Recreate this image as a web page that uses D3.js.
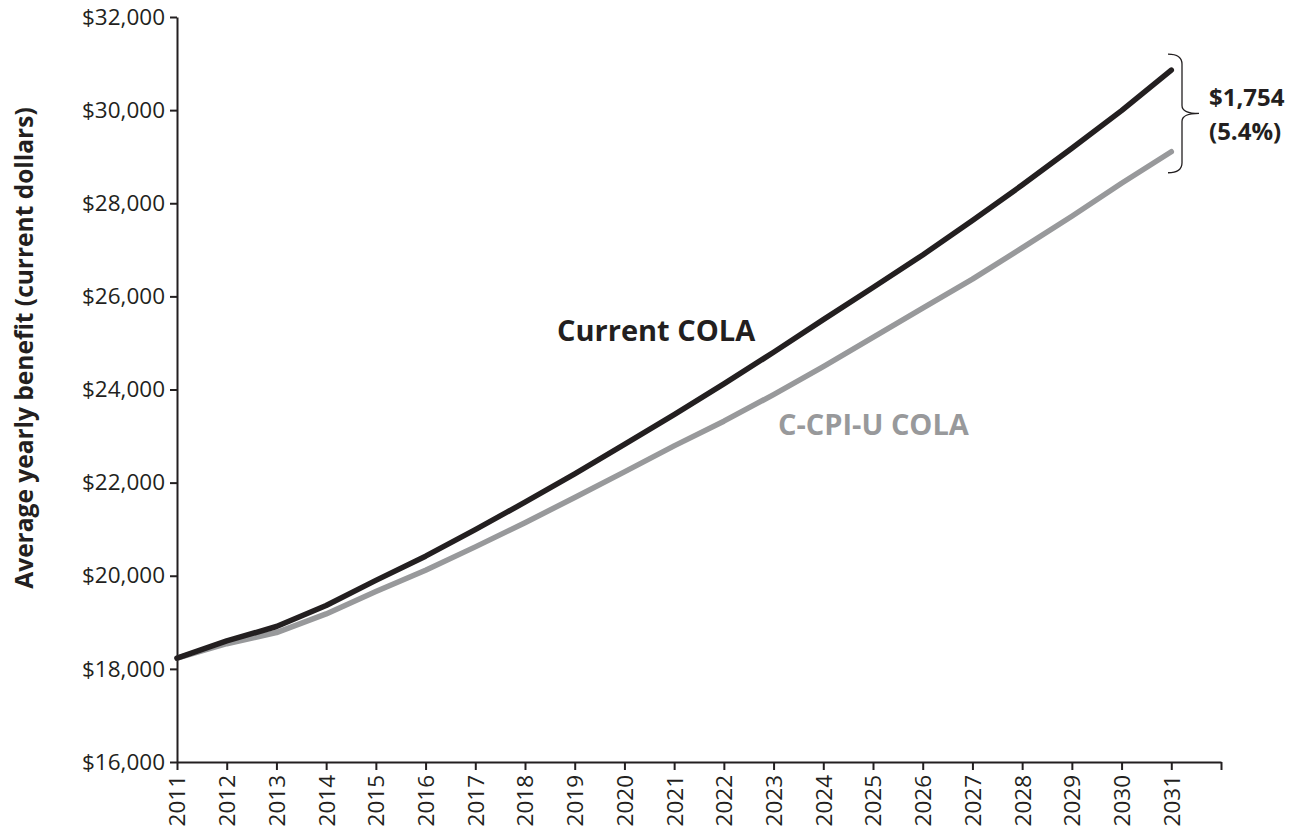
<!DOCTYPE html>
<html>
<head>
    <meta charset="utf-8">
    <title>Average yearly benefit</title>
    <script src="https://d3js.org/d3.v7.min.js"></script>
    <style>
        html, body {
            margin: 0px;
            padding: 0px;
            background: #fff;
        }
        svg {
            font-family: 'Open Sans', sans-serif;
        }
        .axis path, .axis line {
            stroke: #231f20;
            stroke-width: 2px;
        }
        .axis text {
            fill: #231f20;
            font-family: 'Open Sans', sans-serif;
            font-size: 22.5px;
        }
        .series {
            fill: none;
            stroke-width: 5.5px;
            stroke-linecap: round;
            stroke-linejoin: round;
        }
    </style>
</head>
<body>
<script>

    // values
    var years = [2011, 2012, 2013, 2014, 2015, 2016, 2017, 2018, 2019, 2020, 2021,
                 2022, 2023, 2024, 2025, 2026, 2027, 2028, 2029, 2030, 2031];
    var currentCola = [18230, 18600, 18910, 19360, 19900, 20420, 20990, 21580, 22190, 22820, 23460,
                       24120, 24800, 25500, 26190, 26890, 27630, 28390, 29180, 29990, 30860];
    var chainedCola = [18230, 18540, 18780, 19180, 19660, 20120, 20620, 21140, 21680, 22230, 22790,
                       23320, 23890, 24490, 25120, 25750, 26370, 27040, 27720, 28430, 29106];
    var yTicks = [16000, 18000, 20000, 22000, 24000, 26000, 28000, 30000, 32000];
    var gapLabel = ["$1,754", "(5.4%)"];

    var width = 1301, height = 828;
    var plotLeft = 177, plotRight = 1221, plotTop = 17, plotBottom = 762;

    var x = d3.scaleLinear().domain([2011, 2032]).range([plotLeft, plotRight]);
    var y = d3.scaleLinear().domain([16000, 32000]).range([plotBottom, plotTop]);

    var svg = d3.select("body").append("svg")
        .attr("width", width)
        .attr("height", height);

    // axes
    var yAxis = d3.axisLeft(y)
        .tickValues(yTicks)
        .tickSize(7)
        .tickPadding(5)
        .tickSizeOuter(0)
        .tickFormat(function(d) { return "$" + d3.format(",")(d); });

    svg.append("g")
        .attr("class", "axis")
        .attr("transform", "translate(" + plotLeft + ",0)")
        .call(yAxis);

    var xAxis = d3.axisBottom(x)
        .tickValues(years.concat([2032]))
        .tickSize(8)
        .tickSizeOuter(0)
        .tickFormat(function(d) { return d === 2032 ? "" : d; });

    var gx = svg.append("g")
        .attr("class", "axis")
        .attr("transform", "translate(0," + plotBottom + ")")
        .call(xAxis);

    gx.selectAll("text")
        .attr("transform", "rotate(-90)")
        .attr("text-anchor", "end")
        .attr("x", -13)
        .attr("y", 0)
        .attr("dy", "0.35em");

    svg.append("text")
        .attr("transform", "translate(33,348) rotate(-90)")
        .attr("text-anchor", "middle")
        .style("font-size", "24.5px")
        .style("font-weight", "bold")
        .attr("fill", "#231f20")
        .text("Average yearly benefit (current dollars)");

    // lines
    var line = d3.line()
        .x(function(d, i) { return x(years[i]); })
        .y(function(d) { return y(d); });

    svg.append("path")
        .attr("class", "series")
        .attr("stroke", "#98999b")
        .attr("d", line(chainedCola));

    svg.append("path")
        .attr("class", "series")
        .attr("stroke", "#231f20")
        .attr("d", line(currentCola));

    svg.append("text")
        .attr("x", 557)
        .attr("y", 341)
        .style("font-size", "29px")
        .style("font-weight", "bold")
        .attr("fill", "#231f20")
        .text("Current COLA");

    svg.append("text")
        .attr("x", 778)
        .attr("y", 435)
        .style("font-size", "29px")
        .style("font-weight", "bold")
        .attr("fill", "#98999b")
        .text("C-CPI-U COLA");

    // bracket for the gap in 2031
    var last = years.length - 1;
    var bTop = y(currentCola[last]) - 16;
    var bBot = y(chainedCola[last]) + 21;
    var bMid = (bTop + bBot) / 2;
    var bx = 1182, tip = 1199;

    svg.append("path")
        .attr("fill", "none")
        .attr("stroke", "#231f20")
        .attr("stroke-width", 1.3)
        .attr("d", "M" + (bx - 14) + "," + bTop +
                   " Q" + bx + "," + bTop + " " + bx + "," + (bTop + 10) +
                   " L" + bx + "," + (bMid - 8) +
                   " Q" + bx + "," + bMid + " " + tip + "," + bMid +
                   " Q" + bx + "," + bMid + " " + bx + "," + (bMid + 8) +
                   " L" + bx + "," + (bBot - 10) +
                   " Q" + bx + "," + bBot + " " + (bx - 14) + "," + bBot);

    svg.selectAll(".gap").data(gapLabel)
        .enter().append("text")
        .attr("class", "gap")
        .attr("x", 1209)
        .attr("y", function(d, i) { return bMid - 7 + i * 34; })
        .style("font-size", "24px")
        .style("font-weight", "bold")
        .attr("fill", "#231f20")
        .text(function(d) { return d; });

</script>
</body>
</html>
